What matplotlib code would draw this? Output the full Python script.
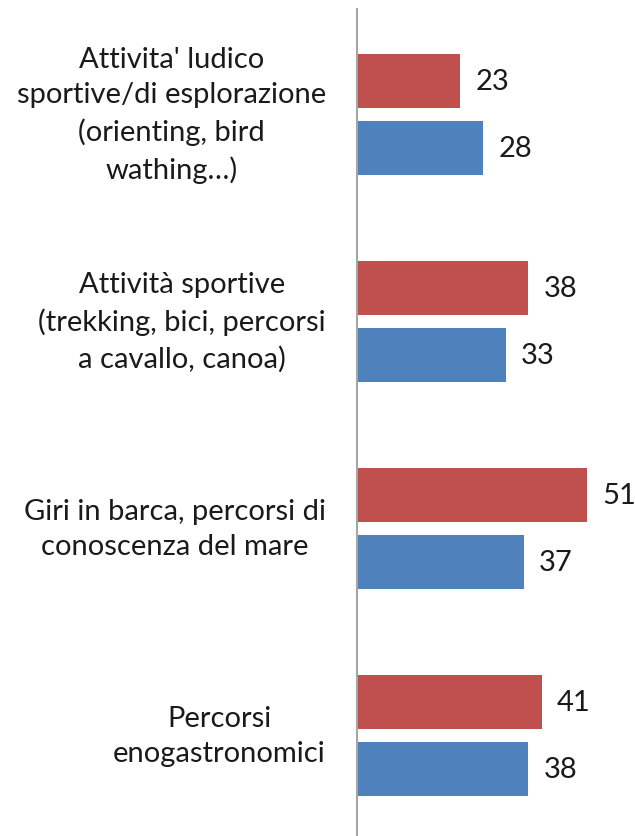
import matplotlib.pyplot as plt
import numpy as np

categories = [
    "Attivita' ludico\nsportive/di esplorazione\n(orienting, bird\nwathing\u2026)",
    "Attivit\u00e0 sportive\n(trekking, bici, percorsi\na cavallo, canoa)",
    "Giri in barca, percorsi di\nconoscenza del mare",
    "Percorsi\nenogastronomici",
]
red_values = [23, 38, 51, 41]
blue_values = [28, 33, 37, 38]

RED = '#C0504D'
BLUE = '#4F81BD'
AXIS_GREY = '#A6A6A6'
FONT = 'Lato'
FS = 21

fig = plt.figure(figsize=(6.35, 8.37), dpi=100)
W, H = 635, 837
ax = fig.add_axes([356.5 / W, 0, 1 - 356.5 / W, (H - 10) / H])

y = np.arange(len(categories))
offset = 0.162
height = 0.263
ax.barh(y - offset, red_values, height=height, color=RED)
ax.barh(y + offset, blue_values, height=height, color=BLUE)

ax.set_xlim(0, (W - 356.5) / 4.52)
ax.set_ylim(3 + (H - 736.5) / 207, -105.5 / 207)

for spine in ['top', 'right', 'bottom']:
    ax.spines[spine].set_visible(False)
ax.spines['left'].set_color(AXIS_GREY)
ax.spines['left'].set_linewidth(1.5)
ax.set_xticks([])
ax.set_yticks([])

# value labels
for yi, v in zip(y - offset, red_values):
    ax.annotate(str(v), (v, yi), xytext=(11, 0), textcoords='offset points',
                va='center', ha='left', fontsize=FS, family=FONT, color='#1a1a1a')
for yi, v in zip(y + offset, blue_values):
    ax.annotate(str(v), (v, yi), xytext=(11, 0), textcoords='offset points',
                va='center', ha='left', fontsize=FS, family=FONT, color='#1a1a1a')

# category labels
for yi, label in zip(y, categories):
    ax.annotate(label, (0, yi), xytext=(-22, 0), textcoords='offset points',
                va='center', ha='right', multialignment='center',
                fontsize=FS, family=FONT, linespacing=1.46, color='#1a1a1a',
                annotation_clip=False)

fig.savefig('out.png', dpi=100)
